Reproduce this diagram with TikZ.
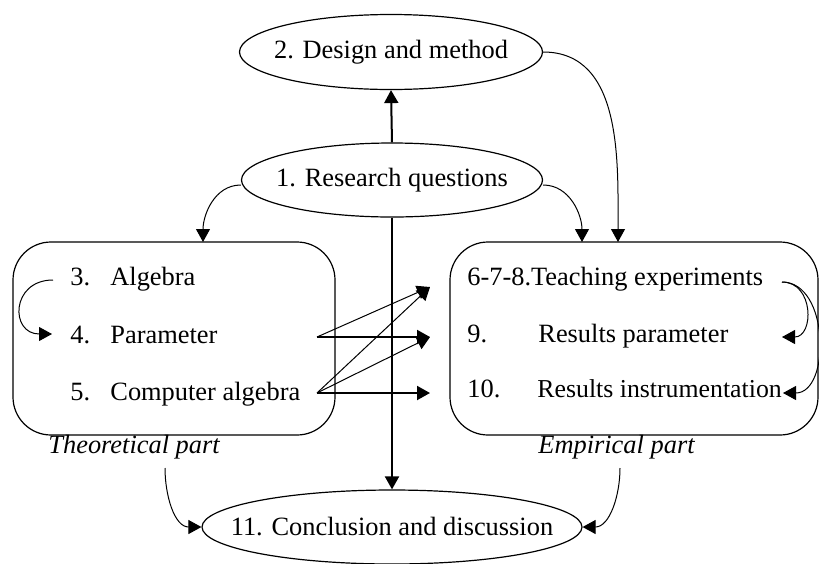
\documentclass[tikz,border=0pt]{standalone}
\usepackage{fontspec}
\setmainfont{Liberation Serif}
\usetikzlibrary{arrows.meta,shapes.geometric}

\begin{document}
\begin{tikzpicture}[
  x=0.5pt, y=-0.5pt,
  font=\fontsize{13.2}{15}\selectfont,
  oval/.style={draw, ellipse, inner sep=0pt, line width=0.6pt},
  part/.style={draw, rounded corners=19pt, minimum width=161pt, minimum height=96.5pt, line width=0.6pt},
  item/.style={anchor=base west, inner sep=0pt},
  partlabel/.style={anchor=base west, inner sep=0pt, font=\fontsize{13.2}{15}\selectfont\itshape},
  arr/.style={-{Triangle[length=6.5pt,width=7pt]}, line width=1pt},
  thinarr/.style={-{Triangle[length=6.5pt,width=7pt]}, line width=0.5pt}
]
\useasboundingbox (0,0) rectangle (819,563);

% ovals
\node[oval, minimum width=151.5pt, minimum height=37.5pt] (dm) at (391,52) {\makebox[0pt]{2. Design and method}};
\node[oval, minimum width=150.5pt, minimum height=37pt] (rq) at (392,180) {\makebox[0pt]{1. Research questions}};
\node[oval, minimum width=190pt, minimum height=37pt] (cd) at (392,527) {\makebox[0pt]{11. Conclusion and discussion}};

% the two parts
\node[part] (theo) at (174,338.5) {};
\node[part, minimum width=184pt] (emp) at (634,338.5) {};

\node[item] (alg) at (70,285) {\makebox[20pt][l]{3.}Algebra};
\node[item] (par) at (70,343) {\makebox[20pt][l]{4.}Parameter};
\node[item] (ca) at (70,400) {\makebox[20pt][l]{5.}Computer algebra};

\node[item] (te) at (467,285) {6-7-8.Teaching experiments};
\node[item] (rp) at (467,342) {\makebox[35.5pt][l]{9.}Results parameter};
\node[item] (ri) at (467,397) {\makebox[35pt][l]{10.}\fontsize{12.9}{15}\selectfont Results instrumentation};

\node[partlabel] (theocap) at (48,453) {Theoretical part};
\node[partlabel] (empcap) at (538,453) {Empirical part};

% free ends
\coordinate (theoin) at (203,242);
\coordinate (empin) at (582,242);
\coordinate (empin2) at (618,242);
\coordinate (algout) at (53,280);
\coordinate (parin) at (52,334);
\coordinate (parout) at (317,337);
\coordinate (caout) at (317,393);
\coordinate (tin) at (430,287);
\coordinate (rpin) at (430,337);
\coordinate (riin) at (430,393);
\coordinate (teout) at (782,282);
\coordinate (rpback) at (782,337);
\coordinate (riback) at (783,393);
\coordinate (theoout) at (165,468);
\coordinate (empout) at (620,468);

% connectors
\draw[arr] (rq.north) -- (dm.south);
\draw[arr] (rq.south) -- (cd.north);
\draw[thinarr] (rq.west) ++(0,5) to[out=180,in=90] (theoin);
\draw[thinarr] (rq.east) ++(0,5) to[out=0,in=90] (empin);
\draw[thinarr] (dm.east) to[out=0,in=90] (empin2);

\draw[thinarr] (algout) to[out=180,in=180,looseness=2] (parin);
\draw[thinarr] (teout) to[out=0,in=0,looseness=1.5] (rpback);
\draw[thinarr] (teout) to[out=0,in=0,looseness=1.1] (riback);

\draw[arr] (parout) -- (rpin);
\draw[thinarr] (parout) -- (tin);
\draw[arr] (caout) -- (riin);
\draw[thinarr] (caout) -- (tin);
\draw[thinarr] (caout) -- (rpin);

\draw[thinarr] (theoout) to[out=-90,in=180] (cd.west);
\draw[thinarr] (empout) to[out=-90,in=0] (cd.east);
\end{tikzpicture}
\end{document}
